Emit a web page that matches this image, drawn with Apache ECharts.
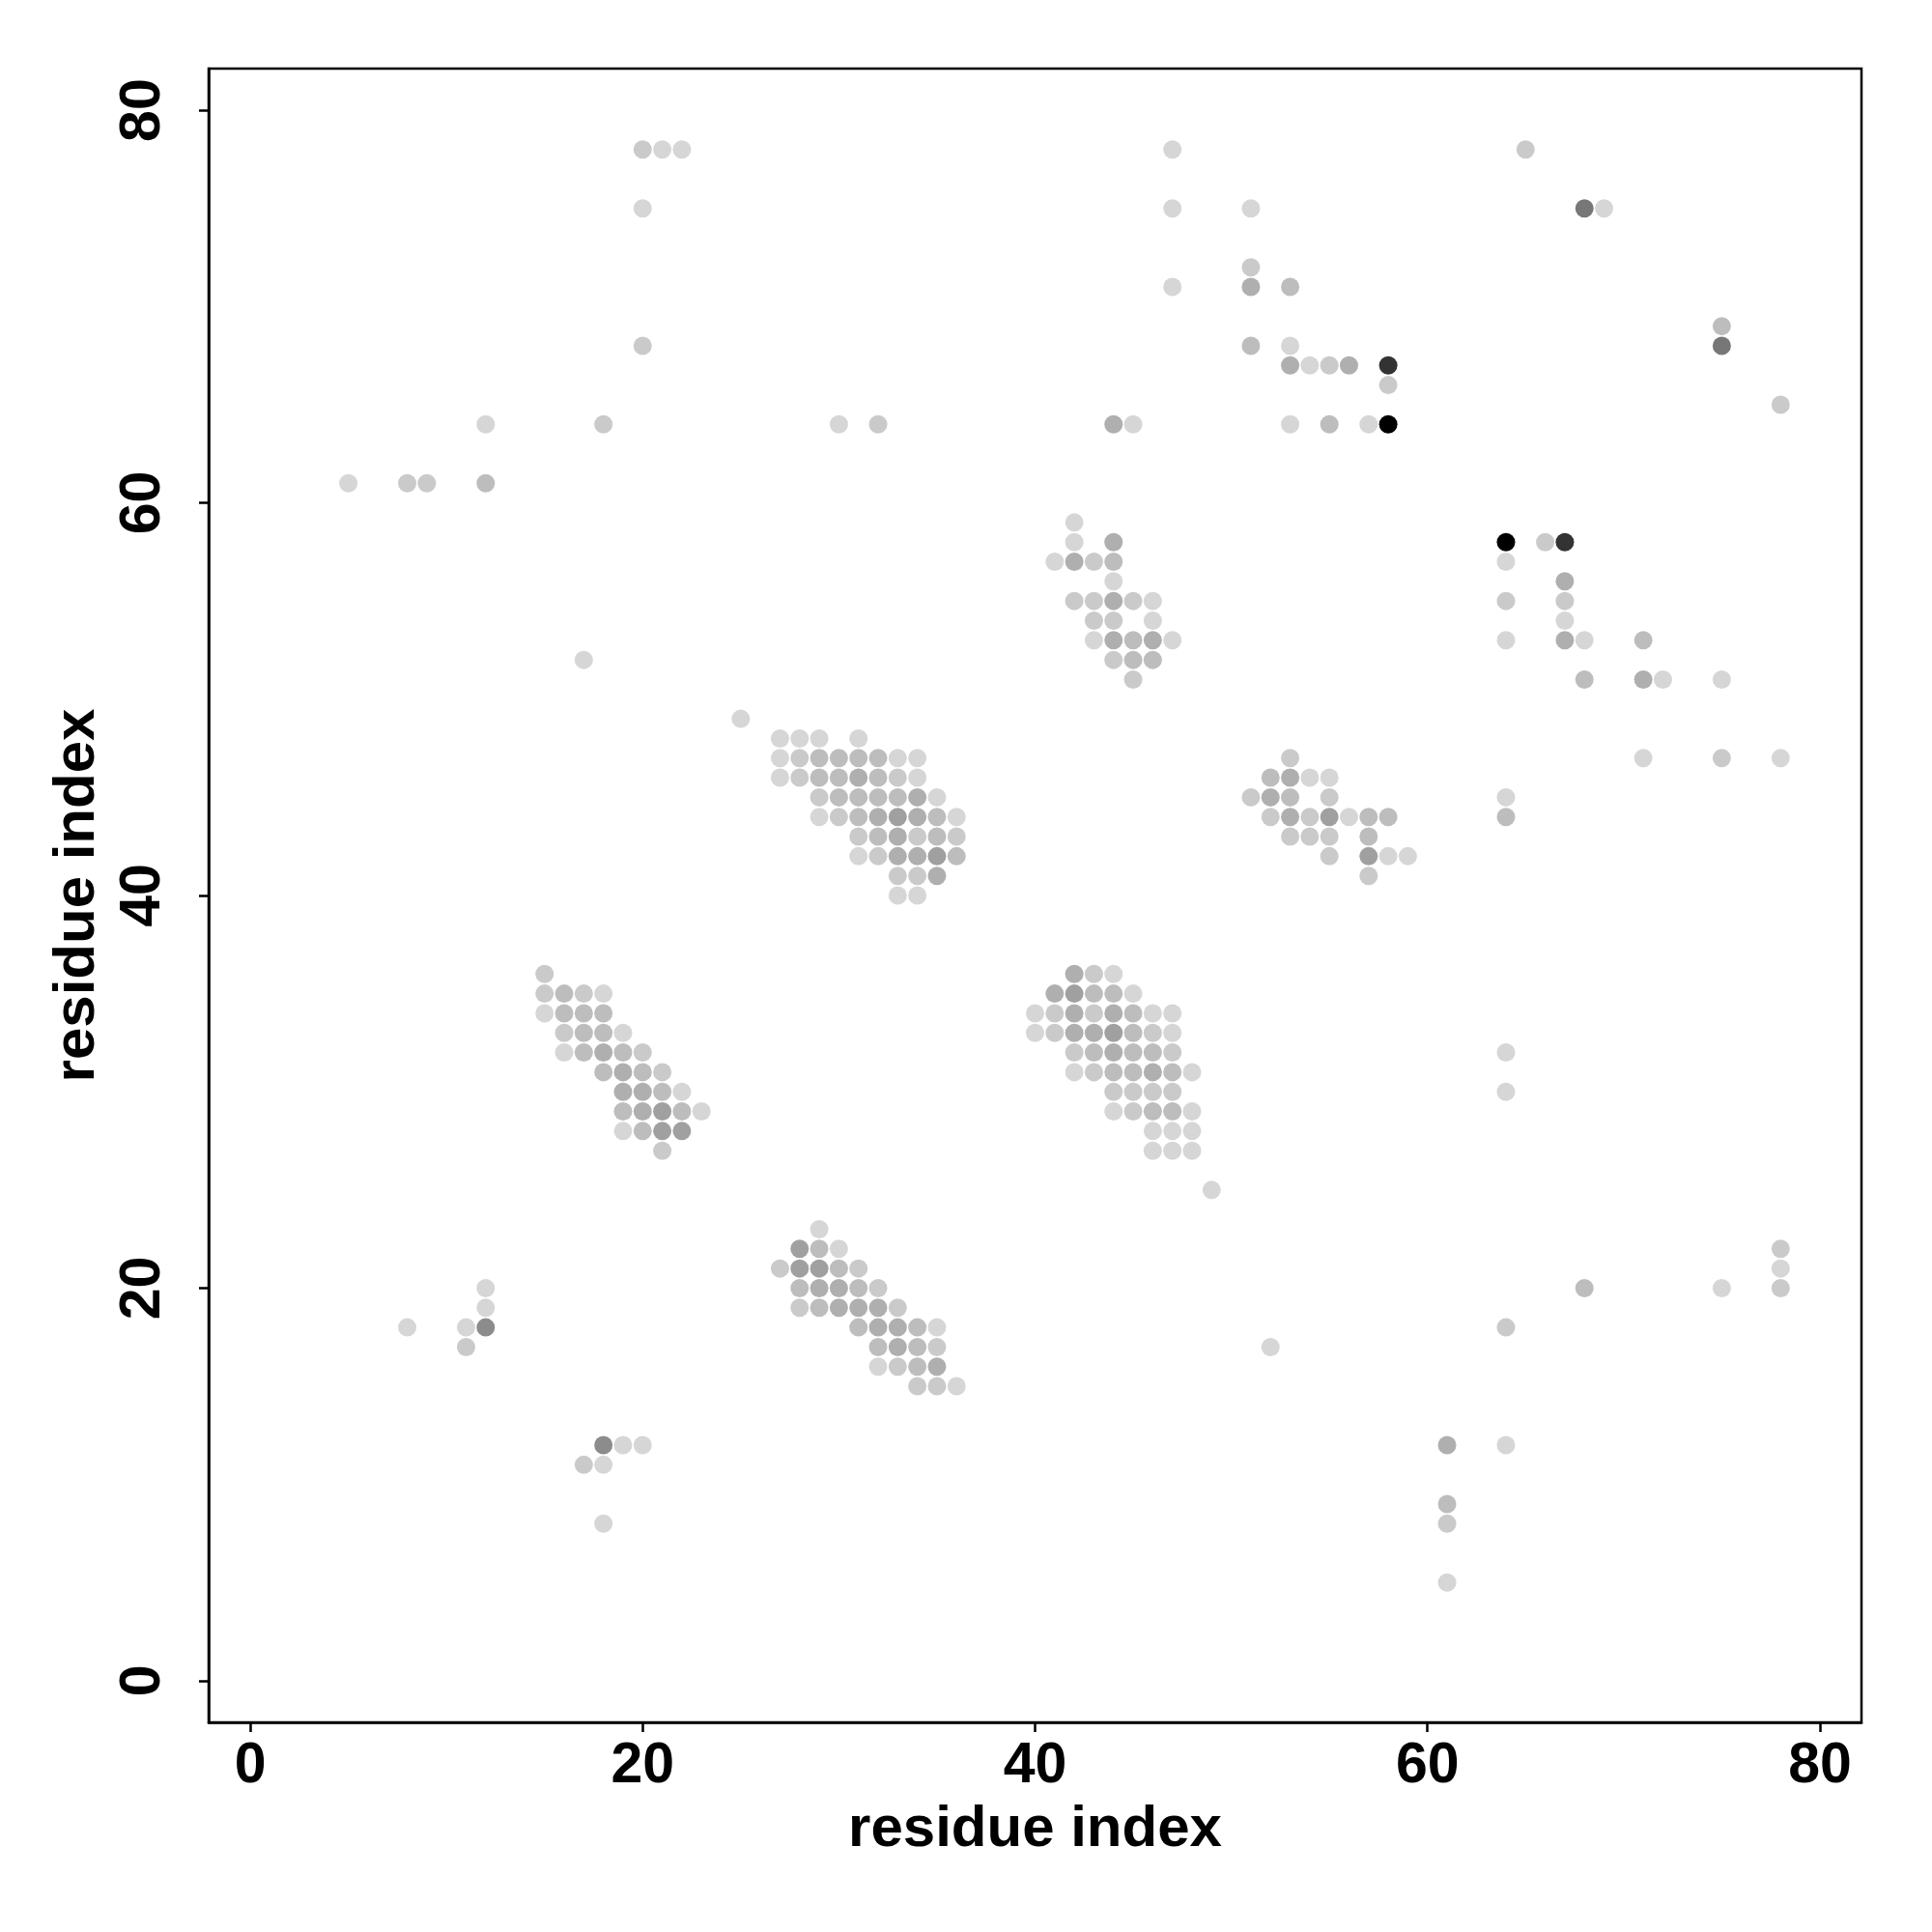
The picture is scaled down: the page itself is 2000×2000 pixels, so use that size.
<!DOCTYPE html>
<html><head><meta charset="utf-8">
<script src="https://cdn.jsdelivr.net/npm/echarts@6/dist/echarts.min.js"></script>
<style>html,body{margin:0;padding:0;background:#fff}#c{width:2000px;height:2000px}</style>
</head><body><div id="c"></div>
<script>
// contact triples: [residue i, residue j, intensity level 1..9]
const tickValues = [0, 20, 40, 60, 80];
const axisTitleX = 'residue index';
const axisTitleY = 'residue index';

const clusterA = [
 [27,48,1],[28,48,1],[29,48,1],[31,48,1],
 [27,47,1],[28,47,2],[29,47,3],[30,47,3],[31,47,3],[32,47,3],[33,47,1],[34,47,1],
 [27,46,1],[28,46,2],[29,46,3],[30,46,3],[31,46,4],[32,46,3],[33,46,2],[34,46,1],
 [29,45,2],[30,45,3],[31,45,3],[32,45,3],[33,45,3],[34,45,4],[35,45,1],
 [29,44,1],[30,44,2],[31,44,3],[32,44,4],[33,44,5],[34,44,4],[35,44,3],[36,44,1],
 [31,43,2],[32,43,3],[33,43,4],[34,43,2],[35,43,3],[36,43,2],
 [31,42,1],[32,42,2],[33,42,4],[34,42,4],[35,42,5],[36,42,3],
 [33,41,2],[34,41,2],[35,41,4],
 [33,40,1],[34,40,1]
];
const clusterB = [
 [15,36,2],
 [15,35,2],[16,35,3],[17,35,2],[18,35,1],
 [15,34,1],[16,34,3],[17,34,3],[18,34,3],
 [16,33,2],[17,33,3],[18,33,3],[19,33,1],
 [16,32,1],[17,32,3],[18,32,4],[19,32,3],[20,32,2],
 [18,31,3],[19,31,4],[20,31,3],[21,31,2],
 [19,30,4],[20,30,4],[21,30,3],[22,30,1],
 [19,29,3],[20,29,4],[21,29,5],[22,29,3],[23,29,1],
 [19,28,1],[20,28,3],[21,28,5],[22,28,5],
 [21,27,2]
];
const clusterC = [
 [29,23,1],
 [28,22,5],[29,22,3],[30,22,1],
 [27,21,2],[28,21,5],[29,21,5],[30,21,3],[31,21,2],
 [28,20,3],[29,20,4],[30,20,4],[31,20,3],[32,20,2],
 [28,19,2],[29,19,3],[30,19,4],[31,19,4],[32,19,4],[33,19,2],
 [31,18,3],[32,18,4],[33,18,4],[34,18,3],[35,18,1],
 [32,17,3],[33,17,4],[34,17,3],[35,17,2],
 [32,16,1],[33,16,2],[34,16,3],[35,16,4],
 [34,15,2],[35,15,2],[36,15,1]
];
const clusterD = [
 [42,36,4],[43,36,2],[44,36,1],
 [41,35,4],[42,35,5],[43,35,3],[44,35,3],[45,35,1],
 [40,34,1],[41,34,2],[42,34,4],[43,34,2],[44,34,4],[45,34,3],[46,34,1],[47,34,1],
 [40,33,1],[41,33,2],[42,33,4],[43,33,4],[44,33,5],[45,33,3],[46,33,2],[47,33,1],
 [42,32,2],[43,32,3],[44,32,4],[45,32,3],[46,32,3],[47,32,2],
 [42,31,1],[43,31,2],[44,31,3],[45,31,3],[46,31,4],[47,31,3],[48,31,1],
 [44,30,2],[45,30,2],[46,30,2],[47,30,2],
 [44,29,1],[45,29,2],[46,29,3],[47,29,3],[48,29,1],
 [46,28,1],[47,28,1],[48,28,1],
 [46,27,1],[47,27,1],[48,27,1],
 [49,25,1]
];
const clusterE = [
 [42,59,1],
 [42,58,1],[44,58,4],
 [41,57,1],[42,57,4],[43,57,2],[44,57,3],
 [44,56,1],
 [42,55,2],[43,55,2],[44,55,4],[45,55,2],[46,55,1],
 [43,54,2],[44,54,2],[46,54,1],
 [43,53,1],[44,53,4],[45,53,3],[46,53,4],[47,53,1],
 [44,52,2],[45,52,3],[46,52,3],
 [45,51,2]
];
const clusterF = [
 [53,47,2],
 [52,46,3],[53,46,4],[54,46,1],[55,46,1],
 [51,45,2],[52,45,4],[53,45,3],[55,45,2],
 [52,44,2],[53,44,4],[54,44,2],[55,44,5],[56,44,1],[57,44,3],[58,44,3],
 [53,43,2],[54,43,2],[55,43,2],[57,43,3],
 [55,42,2],[57,42,5],[58,42,1],[59,42,1],
 [57,41,2]
];
const clusterG = [
 [47,78,1],[47,75,1],[47,71,1],
 [51,75,1],[51,72,2],[51,71,4],[53,71,3],
 [51,68,3],[53,68,1],
 [53,67,4],[54,67,1],[55,67,2],[56,67,4],[58,67,8],
 [58,66,2],
 [53,64,1],[55,64,3],[57,64,1],[58,64,9],
 [44,64,4],[45,64,1],[30,64,1],[32,64,2]
];
const clusterH = [
 [64,58,9],[66,58,2],[67,58,8],
 [64,57,1],
 [67,56,4],
 [64,55,2],[67,55,2],
 [67,54,1],
 [64,53,1],[67,53,4],[68,53,1],[71,53,3],
 [68,51,3],[71,51,4],[72,51,1],[75,51,1],
 [71,47,1],[75,47,2],[78,47,1],
 [64,45,1],[64,44,3],[64,32,1],[64,30,1],
 [65,78,2],[68,75,7],[69,75,1],[75,69,3],[75,68,7],[78,65,2]
];
const clusterTopLeft = [
 [20,78,2],[21,78,1],[22,78,1],[20,75,1],[20,68,2],
 [12,64,1],[18,64,2],
 [5,61,1],[8,61,2],[9,61,2],[12,61,3],
 [17,52,1],[25,49,1]
];
const clusterBottomLeft = [
 [12,20,1],[12,19,1],[8,18,1],[11,18,1],[12,18,6],[11,17,2],
 [18,12,6],[19,12,1],[20,12,1],[17,11,2],[18,11,1],[18,8,1]
];
const clusterBottomRight = [
 [78,22,2],[78,21,1],[78,20,2],[68,20,3],[75,20,1],[64,18,2],[52,17,1],
 [61,12,4],[64,12,1],[61,9,3],[61,8,2],[61,5,1]
];

const greyLevels = ['#d6d6d6','#cacaca','#bdbdbd','#afafaf','#a0a0a0','#8c8c8c','#777777','#333333','#000000'];

const allContacts = [].concat(clusterA, clusterB, clusterC, clusterD, clusterE, clusterF,
  clusterG, clusterH, clusterTopLeft, clusterBottomLeft, clusterBottomRight);

const font = 'Liberation Sans, Arial, Helvetica, sans-serif';
const chart = echarts.init(document.getElementById('c'), null, {renderer: 'canvas'});
chart.setOption({
  animation: false,
  backgroundColor: '#ffffff',
  grid: {left: 216, top: 71, width: 1711, height: 1712, show: true,
         borderColor: '#000', borderWidth: 2.5, backgroundColor: 'transparent'},
  xAxis: {
    type: 'value', min: -2.12, max: 82.12,
    splitLine: {show: false},
    axisLine: {show: true, onZero: false, lineStyle: {color: '#000', width: 2.5}},
    axisTick: {show: true, customValues: tickValues, length: 10, inside: false, lineStyle: {color: '#000', width: 2.5}},
    axisLabel: {show: true, customValues: tickValues, fontSize: 59, fontWeight: 'bold', color: '#000', fontFamily: font, margin: 16},
    name: axisTitleX, nameLocation: 'middle', nameGap: 81,
    nameTextStyle: {fontSize: 60, fontWeight: 'bold', color: '#000', fontFamily: font}
  },
  yAxis: {
    type: 'value', min: -2.12, max: 82.12,
    splitLine: {show: false},
    axisLine: {show: true, onZero: false, lineStyle: {color: '#000', width: 2.5}},
    axisTick: {show: true, customValues: tickValues, length: 10, inside: false, lineStyle: {color: '#000', width: 2.5}},
    axisLabel: {show: true, customValues: tickValues, rotate: 90, fontSize: 59, fontWeight: 'bold', color: '#000', fontFamily: font, margin: 38},
    name: axisTitleY, nameLocation: 'middle', nameGap: 106,
    nameTextStyle: {fontSize: 60, fontWeight: 'bold', color: '#000', fontFamily: font}
  },
  series: [{
    type: 'scatter',
    symbol: 'circle',
    symbolSize: 19,
    itemStyle: {opacity: 1},
    data: allContacts.map(d => ({value: [d[0], d[1]], itemStyle: {color: greyLevels[d[2] - 1], opacity: 1}}))
  }]
});
</script>
</body></html>
